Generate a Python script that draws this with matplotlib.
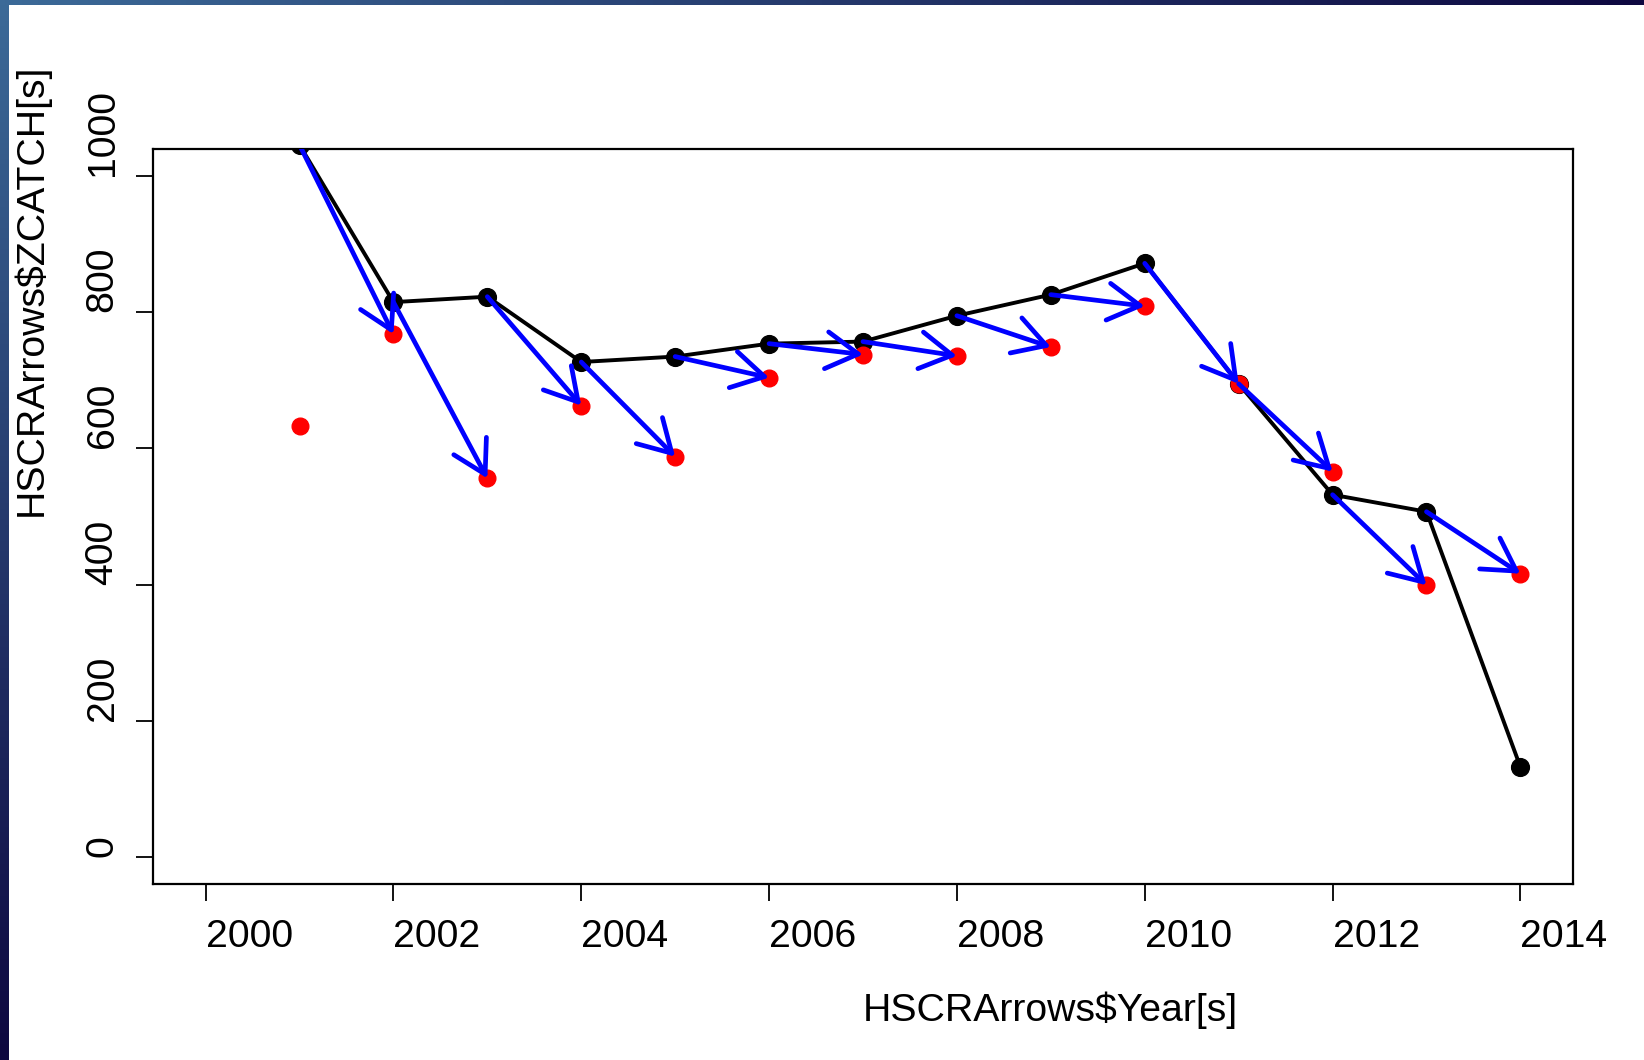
import numpy as np
import matplotlib.pyplot as plt
from matplotlib.patches import Rectangle, FancyArrowPatch

plt.rcParams["font.family"] = ["Liberation Sans", "DejaVu Sans"]

years = [2001, 2002, 2003, 2004, 2005, 2006, 2007, 2008, 2009, 2010, 2011, 2012, 2013, 2014]
zcatch = [1046, 815, 823, 727, 735, 754, 757, 795, 826, 872, 695, 532, 507, 132]
zcatch_next = [633, 768, 556, 663, 588, 704, 738, 736, 749, 809, 695, 566, 399, 416]
x_ticks = [2000, 2002, 2004, 2006, 2008, 2010, 2012, 2014]
y_ticks = [0, 200, 400, 600, 800, 1000]

W, H = 1644, 1060
DPI = 100
FS = 28.3

fig = plt.figure(figsize=(W / DPI, H / DPI), dpi=DPI)

# slide background: diagonal blue gradient, white page on top
bg = fig.add_axes([0, 0, 1, 1], zorder=-10)
gx, gy = np.meshgrid(np.linspace(0, 1, 300), np.linspace(0, 1, 200))
t = np.clip(gx + gy, 0, 1)
c0 = np.array([60, 106, 152]) / 255
c1 = np.array([14, 8, 64]) / 255
grad = c0 + (c1 - c0) * t[..., None]
bg.imshow(grad, extent=(0, 1, 0, 1), aspect="auto", origin="upper")
bg.add_patch(Rectangle((9 / W, 0), 1, 1 - 5 / H, facecolor="white", edgecolor="none"))
bg.set_xlim(0, 1)
bg.set_ylim(0, 1)
bg.axis("off")

ax = fig.add_axes([153 / W, 1 - 884 / H, 1420 / W, 735 / H])

ax.plot(years, zcatch, color="black", lw=2.8, marker="o", ms=12.8, zorder=2)
ax.plot(years, zcatch_next, "o", color="red", ms=12, zorder=3)

# arrows from each year's catch to the next year's red point
for i in range(len(years) - 1):
    arr = FancyArrowPatch((years[i], zcatch[i]), (years[i + 1], zcatch_next[i + 1]),
                          arrowstyle="->,head_length=23,head_width=13.3",
                          mutation_scale=1, shrinkA=0, shrinkB=0,
                          color="blue", lw=3.4, zorder=4)
    ax.add_patch(arr)

ax.set_xlim(1999.44, 2014.56)
ax.set_ylim(-40, 1040)
ax.set_xticks(x_ticks)
ax.set_yticks(y_ticks)
ax.tick_params(direction="out", length=12.5, width=1.3, labelsize=FS, colors="black")
ax.tick_params(axis="x", pad=33)
ax.tick_params(axis="y", pad=16.6)
for sp in ax.spines.values():
    sp.set_linewidth(1.6)

for lab in ax.get_xticklabels():
    lab.set_ha("left")
    lab.set_va("baseline")
for lab in ax.get_yticklabels():
    lab.set_rotation(90)
    lab.set_rotation_mode("anchor")
    lab.set_ha("left")
    lab.set_va("baseline")

fig.text(863 / W, 1 - 1021 / H, "HSCRArrows$Year[s]", ha="left", va="baseline", fontsize=FS)
fig.text(42 / W, 1 - 516 / H, "HSCRArrows$ZCATCH[s]", rotation=90, rotation_mode="anchor",
         ha="left", va="baseline", fontsize=FS)

fig.savefig("out.png", dpi=DPI)
